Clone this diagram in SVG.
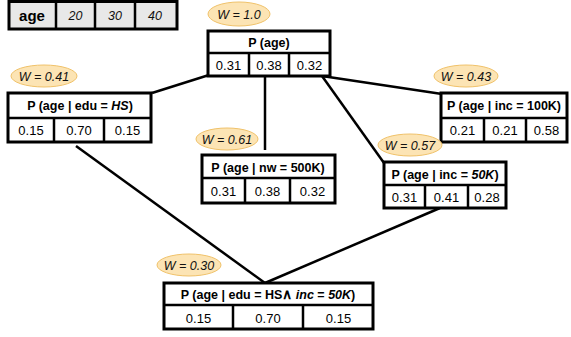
<svg xmlns="http://www.w3.org/2000/svg" width="571" height="337" viewBox="0 0 571 337">
<style>
.box{fill:#fff;stroke:#000;stroke-width:3}
.div{stroke:#000;stroke-width:2.5}
.hd{font-family:"Liberation Sans",Arial,sans-serif;font-size:12.5px;font-weight:bold;text-anchor:middle}
.v{font-family:"Liberation Sans",Arial,sans-serif;font-size:13px;text-anchor:middle}
.w{fill:#fce4b4;stroke:#f0c26a;stroke-width:1}
.wt{font-family:"Liberation Sans",Arial,sans-serif;font-size:12.5px;font-style:italic;text-anchor:middle;fill:#111}
.edge{stroke:#000;stroke-width:2.5;fill:none}
</style>
<g id="connectors">
<line class="edge" x1="209" y1="75" x2="152" y2="93"/>
<line class="edge" x1="322" y1="76" x2="442" y2="94"/>
<line class="edge" x1="322" y1="76" x2="384" y2="163"/>
<line class="edge" x1="265" y1="76" x2="265" y2="150"/>
<line class="edge" x1="76" y1="146" x2="265" y2="283"/>
<line class="edge" x1="440" y1="208" x2="265" y2="283"/>
</g>
<g id="age-table">
<rect x="9" y="1.5" width="168" height="27.5" fill="#e8e8e8" stroke="#000" stroke-width="3"/>
<line class="div" x1="56" y1="1.5" x2="56" y2="29" stroke-width="2"/>
<line class="div" x1="95" y1="1.5" x2="95" y2="29" stroke-width="2"/>
<line class="div" x1="135" y1="1.5" x2="135" y2="29" stroke-width="2"/>
<text x="32" y="21" font-family="Liberation Sans,Arial,sans-serif" font-size="15" font-weight="bold" text-anchor="middle">age</text>
<text x="75.5" y="20" class="wt" font-size="13">20</text>
<text x="115" y="20" class="wt" font-size="13">30</text>
<text x="155" y="20" class="wt" font-size="13">40</text>
</g>
<g id="n-age">
<ellipse class="w" cx="239" cy="14" rx="31" ry="12"/>
<text class="wt" x="239" y="18.5">W = 1.0</text>
<rect class="box" x="208" y="31" width="122" height="45"/>
<line class="div" x1="208" y1="53" x2="330" y2="53"/>
<line class="div" x1="249" y1="53" x2="249" y2="76"/>
<line class="div" x1="289" y1="53" x2="289" y2="76"/>
<text class="hd" x="269" y="47">P (age)</text>
<text class="v" x="228.5" y="69.5">0.31</text>
<text class="v" x="269" y="69.5">0.38</text>
<text class="v" x="309.5" y="69.5">0.32</text>
</g>
<g id="n-edu">
<ellipse class="w" cx="44" cy="76" rx="33" ry="11"/>
<text class="wt" x="44" y="80.5">W = 0.41</text>
<rect class="box" x="8" y="93" width="143" height="49"/>
<line class="div" x1="8" y1="118" x2="151" y2="118"/>
<line class="div" x1="54" y1="118" x2="54" y2="142"/>
<line class="div" x1="104" y1="118" x2="104" y2="142"/>
<text class="hd" x="80" y="110">P (age | edu = <tspan font-style="italic">HS</tspan>)</text>
<text class="v" x="31" y="134.5">0.15</text>
<text class="v" x="79" y="134.5">0.70</text>
<text class="v" x="127.5" y="134.5">0.15</text>
</g>
<g id="n-inc100">
<ellipse class="w" cx="466" cy="76" rx="32" ry="11"/>
<text class="wt" x="466" y="80.5">W = 0.43</text>
<rect class="box" x="441" y="93" width="126" height="49"/>
<line class="div" x1="441" y1="118" x2="567" y2="118"/>
<line class="div" x1="484" y1="118" x2="484" y2="142"/>
<line class="div" x1="526" y1="118" x2="526" y2="142"/>
<text class="hd" x="504" y="110">P (age | inc = 100K)</text>
<text class="v" x="462.5" y="134.5">0.21</text>
<text class="v" x="505" y="134.5">0.21</text>
<text class="v" x="546.5" y="134.5">0.58</text>
</g>
<g id="n-nw">
<ellipse class="w" cx="227" cy="139" rx="31" ry="11"/>
<text class="wt" x="227" y="143.5">W = 0.61</text>
<rect class="box" x="202" y="155" width="133" height="48"/>
<line class="div" x1="202" y1="178" x2="335" y2="178"/>
<line class="div" x1="245" y1="178" x2="245" y2="203"/>
<line class="div" x1="290" y1="178" x2="290" y2="203"/>
<text class="hd" x="268" y="171.5">P (age | nw = 500K)</text>
<text class="v" x="223.5" y="195.5">0.31</text>
<text class="v" x="267.5" y="195.5">0.38</text>
<text class="v" x="312.5" y="195.5">0.32</text>
</g>
<g id="n-inc50">
<ellipse class="w" cx="410" cy="145" rx="32" ry="11"/>
<text class="wt" x="410" y="149.5">W = 0.57</text>
<rect class="box" x="384" y="162" width="122" height="46"/>
<line class="div" x1="384" y1="185" x2="506" y2="185"/>
<line class="div" x1="425" y1="185" x2="425" y2="208"/>
<line class="div" x1="468" y1="185" x2="468" y2="208"/>
<text class="hd" x="445" y="178.5">P (age | inc = <tspan font-style="italic">50K</tspan>)</text>
<text class="v" x="404.5" y="201.5">0.31</text>
<text class="v" x="446.5" y="201.5">0.41</text>
<text class="v" x="487" y="201.5">0.28</text>
</g>
<g id="n-bottom">
<ellipse class="w" cx="189" cy="265" rx="32" ry="11"/>
<text class="wt" x="189" y="269.5">W = 0.30</text>
<rect class="box" x="164" y="283" width="209" height="46"/>
<line class="div" x1="164" y1="305" x2="373" y2="305"/>
<line class="div" x1="233" y1="305" x2="233" y2="329"/>
<line class="div" x1="303" y1="305" x2="303" y2="329"/>
<text class="hd" x="268" y="299" font-size="12">P (age | edu = HS<tspan font-size="14">∧</tspan> <tspan font-style="italic">inc</tspan> = <tspan font-style="italic">50K</tspan>)</text>
<text class="v" x="198.5" y="322.5">0.15</text>
<text class="v" x="268" y="322.5">0.70</text>
<text class="v" x="338.5" y="322.5">0.15</text>
</g>
</svg>
